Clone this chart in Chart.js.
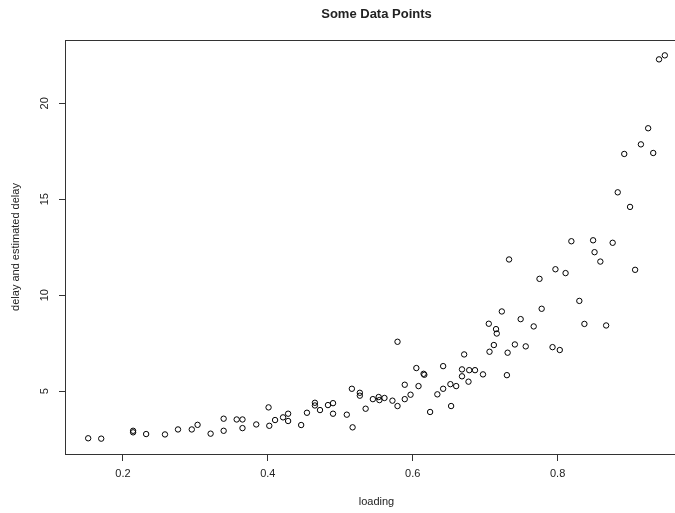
<!DOCTYPE html>
<html>
<head>
<meta charset="utf-8">
<script src="https://cdn.jsdelivr.net/npm/chart.js@4/dist/chart.umd.min.js"></script>
<style>
  html, body { margin: 0; padding: 0; background: #fff; overflow: hidden; }
  #wrap { width: 700px; height: 513px; }
</style>
</head>
<body>
<div id="wrap"><canvas id="canvas" width="700" height="513"></canvas></div>
<script>
// values
var loading = [
  0.152, 0.170, 0.214, 0.214, 0.232, 0.258, 0.276, 0.295, 0.303, 0.321,
  0.339, 0.339, 0.357, 0.365, 0.365, 0.384, 0.401, 0.402, 0.410, 0.421,
  0.428, 0.428, 0.446, 0.454, 0.465, 0.465, 0.472, 0.483, 0.490, 0.490,
  0.509, 0.516, 0.517, 0.527, 0.527, 0.535, 0.545, 0.553, 0.554, 0.561,
  0.572, 0.579, 0.579, 0.589, 0.589, 0.597, 0.605, 0.608, 0.615, 0.616,
  0.624, 0.634, 0.642, 0.642, 0.652, 0.653, 0.660, 0.668, 0.668, 0.671,
  0.678, 0.677, 0.686, 0.697, 0.705, 0.706, 0.712, 0.715, 0.716, 0.723,
  0.730, 0.731, 0.733, 0.741, 0.749, 0.756, 0.767, 0.775, 0.778, 0.793,
  0.797, 0.803, 0.811, 0.819, 0.830, 0.837, 0.849, 0.851, 0.859, 0.867,
  0.876, 0.883, 0.892, 0.900, 0.907, 0.915, 0.925, 0.932, 0.940, 0.948
];
var delay = [
  2.54, 2.52, 2.93, 2.85, 2.76, 2.74, 3.00, 3.00, 3.24, 2.78,
  3.56, 2.93, 3.52, 3.52, 3.07, 3.26, 4.15, 3.19, 3.49, 3.63,
  3.82, 3.44, 3.23, 3.87, 4.39, 4.25, 4.01, 4.27, 4.37, 3.82,
  3.77, 5.12, 3.11, 4.91, 4.76, 4.08, 4.58, 4.69, 4.53, 4.64,
  4.50, 7.57, 4.22, 5.33, 4.58, 4.81, 6.20, 5.26, 5.90, 5.85,
  3.91, 4.83, 6.30, 5.12, 5.36, 4.22, 5.26, 6.13, 5.77, 6.91,
  6.09, 5.49, 6.09, 5.87, 8.51, 7.05, 7.40, 8.23, 8.00, 9.15,
  5.83, 7.00, 11.86, 7.43, 8.75, 7.33, 8.37, 10.85, 9.29, 7.29,
  11.35, 7.14, 11.15, 12.81, 9.70, 8.50, 12.86, 12.24, 11.75, 8.42,
  12.73, 15.36, 17.36, 14.60, 11.32, 17.86, 18.70, 17.41, 22.29, 22.50
];
var xTicks = [0.2, 0.4, 0.6, 0.8];
var yTicks = [5, 10, 15, 20];

var mainTitle = 'Some Data Points';
var xTitle = 'loading';
var yTitle = 'delay and estimated delay';

var FONT = '"Liberation Sans", Arial, Helvetica, sans-serif';
var INK = '#222';

var points = loading.map(function (x, i) { return { x: x, y: delay[i] }; });

// R-style extras: box, rotated y labels, titles
var rDecor = {
  id: 'rDecor',
  afterDraw: function (chart) {
    var ctx = chart.ctx, a = chart.chartArea;
    var ys = chart.scales.y;
    ctx.save();
    ctx.strokeStyle = '#333';
    ctx.lineWidth = 1;
    ctx.strokeRect(Math.round(a.left) + 0.5, Math.round(a.top) + 0.5,
                   Math.round(a.right - a.left), Math.round(a.bottom - a.top));

    ctx.fillStyle = INK;
    ctx.font = '11px ' + FONT;
    ctx.textAlign = 'center';
    ctx.textBaseline = 'middle';
    yTicks.forEach(function (v) {
      var py = ys.getPixelForValue(v);
      ctx.save();
      ctx.translate(45, py);
      ctx.rotate(-Math.PI / 2);
      ctx.fillText(String(v), 0, 0);
      ctx.restore();
    });

    var cx = (a.left + a.right) / 2;
    ctx.fillText(xTitle, cx, 502);
    ctx.save();
    ctx.translate(16, (a.top + a.bottom) / 2);
    ctx.rotate(-Math.PI / 2);
    ctx.fillText(yTitle, 0, 0);
    ctx.restore();

    ctx.font = 'bold 13px ' + FONT;
    ctx.fillText(mainTitle, cx, 14);
    ctx.restore();
  }
};

var config = {
  type: 'scatter',
  data: {
    datasets: [{
      data: points,
      pointStyle: 'circle',
      pointRadius: 2.7,
      pointHoverRadius: 2.7,
      borderWidth: 1,
      borderColor: '#000',
      backgroundColor: 'rgba(0,0,0,0)'
    }]
  },
  options: {
    responsive: false,
    animation: false,
    events: [],
    layout: { padding: { top: 40, right: 12, left: 0, bottom: 0 } },
    plugins: {
      legend: { display: false },
      title: { display: false },
      tooltip: { enabled: false }
    },
    scales: {
      x: {
        type: 'linear',
        min: 0.12,
        max: 0.98,
        afterBuildTicks: function (s) { s.ticks = xTicks.map(function (v) { return { value: v }; }); },
        afterFit: function (s) { s.height = 59; },
        grid: { display: true, drawOnChartArea: false, drawTicks: true, tickLength: 7, color: '#333' },
        border: { display: true, color: '#333' },
        ticks: {
          padding: 6,
          maxRotation: 0,
          autoSkip: false,
          color: INK,
          font: { size: 11, family: FONT },
          callback: function (v) { return String(v); }
        }
      },
      y: {
        type: 'linear',
        min: 1.72,
        max: 23.3,
        afterBuildTicks: function (s) { s.ticks = yTicks.map(function (v) { return { value: v }; }); },
        afterFit: function (s) { s.width = 65; },
        grid: { display: true, drawOnChartArea: false, drawTicks: true, tickLength: 6, color: '#333' },
        border: { display: true, color: '#333' },
        ticks: { display: false }
      }
    }
  },
  plugins: [rDecor]
};

window.onload = function () {
  window.myScatter = new Chart(document.getElementById('canvas'), config);
};
</script>
</body>
</html>
